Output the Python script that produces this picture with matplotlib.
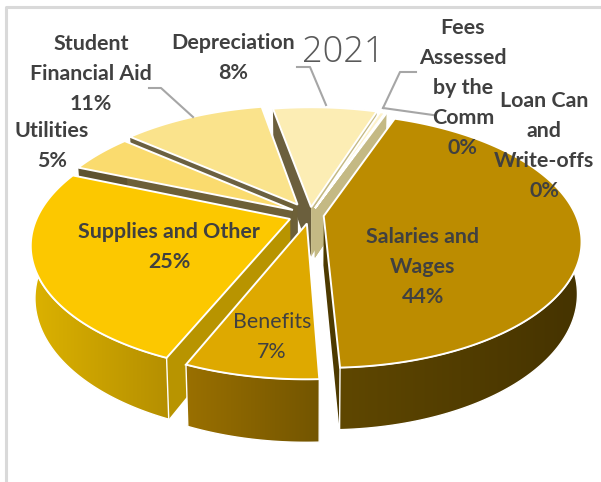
import numpy as np
import matplotlib
matplotlib.use("Agg")
import matplotlib.pyplot as plt
from matplotlib.colors import LinearSegmentedColormap
from matplotlib.patches import Polygon

categories = ["Salaries and\nWages", "Benefits", "Supplies and Other", "Utilities",
              "Student\nFinancial Aid", "Depreciation",
              "Fees\nAssessed\nby the\nComm", "Loan Can\nand\nWrite-offs"]
values = [44, 7, 25, 5, 11, 8, 0.4, 0.1]
explode = [0.055, 0.07, 0.085, 0.08, 0.10, 0.065, 0.06, 0.06]

top_colors = ["#bc8c00", "#dea900", "#fcc800", "#fadb6e", "#fae38c", "#fcedb4", "#fdf2cc", "#fef6dc"]
wall_colors = [("#5f4700", "#453300"), ("#9a7000", "#735500"), ("#dcb200", "#b58f00"),
               ("#c9a84a", "#c9a84a"), ("#c9b060", "#c9b060"), ("#d0bf80", "#d0bf80"),
               ("#d0c490", "#d0c490"), ("#d0c490", "#d0c490")]
# cut faces: (face at the start angle, face at the end angle), angles run clockwise
cut_colors = [("#c4b984", "#4d3a00"), ("#7a5c00", "#7a5c00"), ("#b89400", "#b89400"),
              ("#5f5330", "#6d6038"), ("#6b6040", "#6d6038"), ("#6b5f3d", "#c4b984"),
              ("#c4b984", "#c4b984"), ("#c4b984", "#c4b984")]

label_x = [423, 272, 169, 52, 91, 233, 463, 544]
label_y = [267, 337, 247, 146, 74, 58, 88, 146]
label_bold = [True, False, True, True, True, True, True, True]

leaders = [([149, 161, 193], [88, 88, 117]),
           ([297, 310, 326], [67, 67, 105]),
           ([416, 400, 383], [72, 72, 108]),
           ([383, 433], [108, 115])]

START_ANGLE = 20.0
CX, CY = 310, 215
RX, RY = 252, 122
DEPTH = 50
K = 0.193
TAPER = 0.015


def project(u, v, level=0.0):
    s = 1 / (1 - K * v)
    return CX + RX * u * s * (1 - TAPER * level), CY + RY * v * s + DEPTH * s * level


def slice_geometry(a0, a1, expl):
    mid = np.radians((a0 + a1) / 2)
    ou, ov = expl * np.sin(mid), -expl * np.cos(mid)
    th = np.radians(np.linspace(a0, a1, max(int(a1 - a0) * 2, 6)))
    return ou, ov, ou + np.sin(th), ov - np.cos(th)


def quad(ax, pts, color, z):
    ax.add_patch(Polygon(pts, closed=True, facecolor=color, edgecolor="none", zorder=z))


fig = plt.figure(figsize=(6.01, 4.82), dpi=100)
ax = fig.add_axes([0, 0, 1, 1])

total = sum(values)
spans = [v / total * 360 for v in values]
starts = START_ANGLE + np.concatenate([[0], np.cumsum(spans)[:-1]])

# back slices first so the nearer ones paint over them
mids = starts + np.array(spans) / 2
order = np.argsort(-np.cos(np.radians(mids)))

z = 2
for i in order:
    a0, a1 = starts[i], starts[i] + spans[i]
    ou, ov, us, vs = slice_geometry(a0, a1, explode[i])

    # cut faces from the apex out to the rim
    for end, color in zip([0, -1], cut_colors[i]):
        pts = [project(ou, ov), project(us[end], vs[end]),
               project(us[end], vs[end], 1), project(ou, ov, 1)]
        quad(ax, pts, color, z)
    z += 1

    # outer wall with a left to right gradient, the far side of the rim stays hidden
    front = vs > -0.2
    if front.sum() > 1:
        tx, ty = project(us[front], vs[front])
        bx, by = project(us[front], vs[front], 1)
        wall = np.column_stack([np.r_[tx, bx[::-1]], np.r_[ty, by[::-1]]])
        cmap = LinearSegmentedColormap.from_list("wall", wall_colors[i])
        grad = np.linspace(0, 1, 256).reshape(1, -1)
        left, right = wall[:, 0].min(), wall[:, 0].max()
        img = ax.imshow(grad, cmap=cmap, extent=[left, right, 482, 0], aspect="auto", zorder=z)
        edge = Polygon(wall, closed=True, facecolor="none", edgecolor="white", lw=1.0, zorder=z)
        ax.add_patch(edge)
        img.set_clip_path(Polygon(wall, closed=True, transform=ax.transData))
    z += 1

    # top face
    pts = np.column_stack([np.r_[ou, us], np.r_[ov, vs]])
    px, py = project(pts[:, 0], pts[:, 1])
    ax.add_patch(Polygon(np.column_stack([px, py]), closed=True, facecolor=top_colors[i],
                         edgecolor="white", lw=1.4, joinstyle="miter", zorder=z))
    z += 1

ax.set_xlim(0, 601)
ax.set_ylim(482, 0)
ax.axis("off")

# chart frame, only top and left stay inside the figure
ax.plot([6, 6, 601], [482, 7, 7], color="#d9d9d9", lw=2.2, zorder=1)

for xs, ys in leaders:
    ax.plot(xs, ys, color="#a6a6a6", lw=1.5, zorder=100)

for name, v, x, y, bold in zip(categories, values, label_x, label_y, label_bold):
    ax.text(x, y, f"{name}\n{v:.0f}%", ha="center", va="center", fontsize=15.4,
            family="Lato", fontweight="bold" if bold else "normal", color="#404040",
            linespacing=1.63, zorder=101)

ax.text(343, 52, "2021", ha="center", va="center", fontsize=26, family="Open Sans",
        fontweight="light", color="#595959", zorder=101)

fig.savefig("out.png", dpi=100)
